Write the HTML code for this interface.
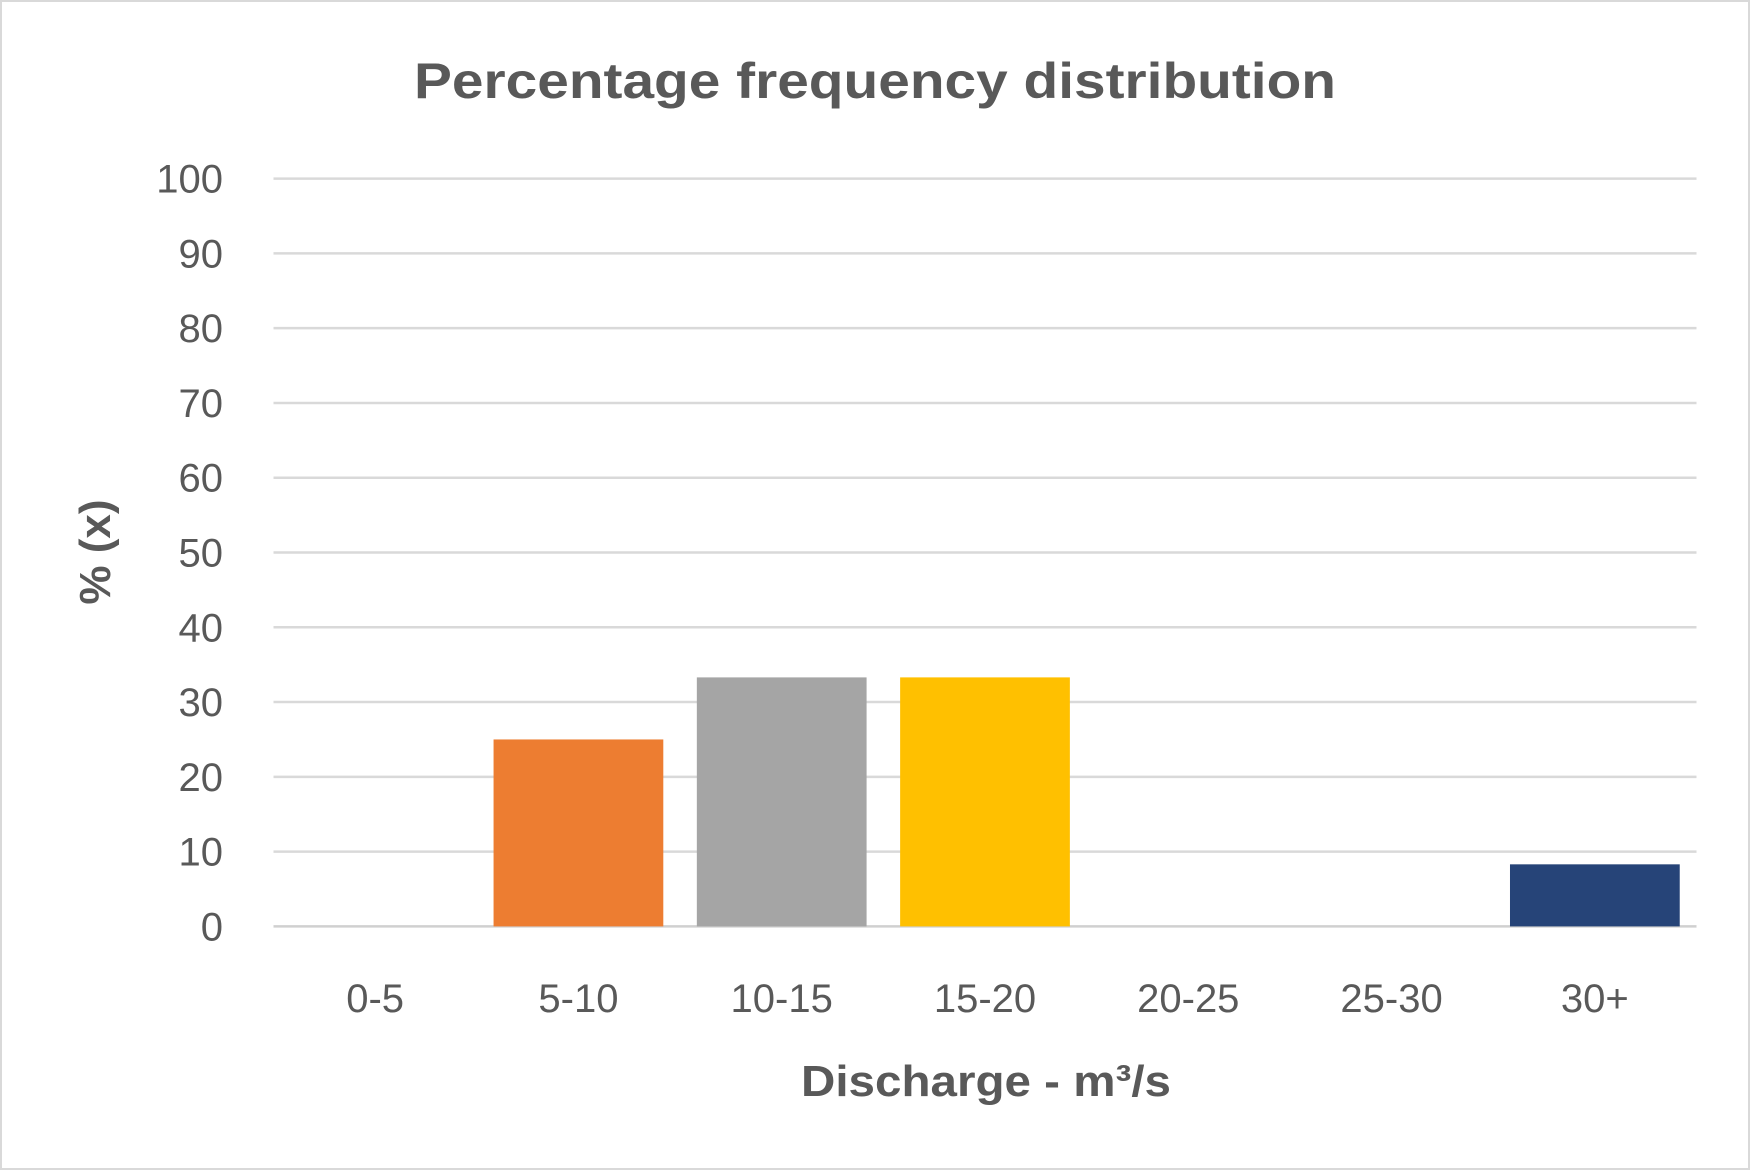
<!DOCTYPE html>
<html><head><meta charset="utf-8"><style>
html,body{margin:0;padding:0;background:#fff}
svg{display:block;font-family:"Liberation Sans",sans-serif}
</style></head><body>
<svg id="chart" width="1750" height="1170" viewBox="0 0 1750 1170" xmlns="http://www.w3.org/2000/svg">
<rect x="1" y="1" width="1748" height="1168" fill="#fff" stroke="#d9d9d9" stroke-width="2"/>
<text x="875" y="98" text-anchor="middle" font-size="50" font-weight="bold" fill="#595959" textLength="922" lengthAdjust="spacingAndGlyphs">Percentage frequency distribution</text>
<g id="grid"></g><g id="bars"></g><g id="labels"></g>
<text x="986" y="1096" text-anchor="middle" font-size="44" font-weight="bold" fill="#595959" textLength="370" lengthAdjust="spacingAndGlyphs">Discharge - m³/s</text>
<text transform="translate(110,552) rotate(-90)" text-anchor="middle" font-size="44" font-weight="bold" fill="#595959">% (x)</text>
</svg>
<script>
const categories = ["0-5","5-10","10-15","15-20","20-25","25-30","30+"];
const values = [0, 25, 33.3, 33.3, 0, 0, 8.3];
const yTicks = [0,10,20,30,40,50,60,70,80,90,100];
const colors = ["#5b9bd5","#ed7d31","#a5a5a5","#ffc000","#4472c4","#70ad47","#264478"];
const NS="http://www.w3.org/2000/svg";
const x0=273.5, x1=1696.5, yTop=178.6, yBot=926.4;
const step=(x1-x0)/categories.length, bw=step*0.835;
function y(v){return yBot-(v/100)*(yBot-yTop);}
function xc(i){return x0+step*(i+0.5);}
const grid=document.getElementById('grid'), bars=document.getElementById('bars'), labels=document.getElementById('labels');
yTicks.forEach(t=>{
  const l=document.createElementNS(NS,'line');
  
  
  l.setAttribute('x1',x0);l.setAttribute('x2',x1);l.setAttribute('y1',y(t));l.setAttribute('y2',y(t));
  l.setAttribute('stroke',t===0?'#d0d0d0':'#d9d9d9');l.setAttribute('stroke-width','2.5');
  grid.appendChild(l);
  const tx=document.createElementNS(NS,'text');
  
  
  tx.setAttribute('x',223);tx.setAttribute('y',y(t)+14);tx.setAttribute('text-anchor','end');
  tx.setAttribute('font-size','40');tx.setAttribute('fill','#595959');tx.textContent=t;
  labels.appendChild(tx);
});
categories.forEach((c,i)=>{
  if(values[i]>0){
    const r=document.createElementNS(NS,'rect');
    
    
    r.setAttribute('x',xc(i)-bw/2);r.setAttribute('width',bw);
    r.setAttribute('y',y(values[i]));r.setAttribute('height',yBot-y(values[i]));
    r.setAttribute('fill',colors[i]);
    bars.appendChild(r);
  }
  const tx=document.createElementNS(NS,'text');
  
  
  tx.setAttribute('x',xc(i));tx.setAttribute('y',1012);tx.setAttribute('text-anchor','middle');
  tx.setAttribute('font-size','40');tx.setAttribute('fill','#595959');tx.textContent=c;
  labels.appendChild(tx);
});
</script>
</body></html>
